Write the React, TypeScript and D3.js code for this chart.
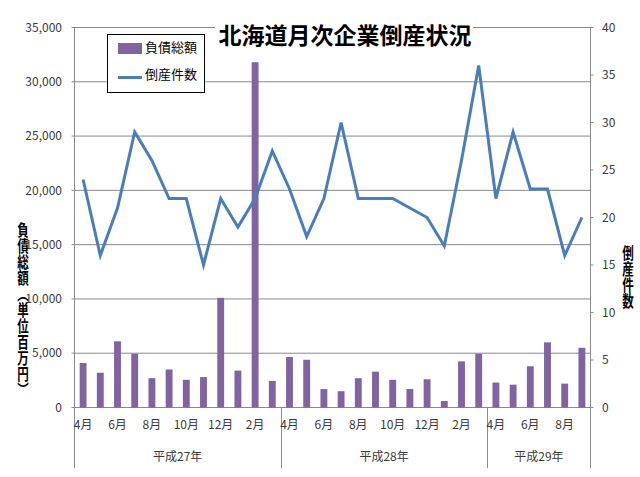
import React from "react";
import * as d3 from "d3";

const months = [
  "4月", "5月", "6月", "7月", "8月", "9月", "10月", "11月", "12月", "1月", "2月", "3月",
  "4月", "5月", "6月", "7月", "8月", "9月", "10月", "11月", "12月", "1月", "2月", "3月",
  "4月", "5月", "6月", "7月", "8月", "9月",
];
const years = [
  { name: "平成27年", count: 12 },
  { name: "平成28年", count: 12 },
  { name: "平成29年", count: 6 },
];
// 負債総額 (百万円)
const debt = [
  4100, 3200, 6100, 4950, 2700, 3500, 2550, 2800, 10100, 3400, 31800, 2450,
  4650, 4400, 1700, 1500, 2700, 3300, 2550, 1700, 2600, 600, 4250, 4950,
  2300, 2100, 3800, 6000, 2200, 5500,
];
// 倒産件数
const cases = [
  24, 16, 21, 29, 26, 22, 22, 15, 22, 19, 22, 27,
  23, 18, 22, 30, 22, 22, 22, 21, 20, 17, 26, 36,
  22, 29, 23, 23, 16, 20,
];
const leftTicks = [0, 5000, 10000, 15000, 20000, 25000, 30000, 35000];
const rightTicks = [0, 5, 10, 15, 20, 25, 30, 35, 40];

const W = 640;
const H = 477;
const m = { left: 74.5, right: 590.5, top: 27.5, bottom: 407.5 };
const catBottom = 468;
const font = "'Noto Sans CJK JP', 'Noto Sans', sans-serif";
const grid = "#8a8a8a";
const textCol = "#3a3a3a";
const barCol = "#8064a2";
const lineCol = "#4a7ebb";

export default function App() {
  const x = d3
    .scaleBand<number>()
    .domain(d3.range(months.length))
    .range([m.left, m.right])
    .paddingInner(0.6)
    .paddingOuter(0.3);
  const step = x.step();
  const cx = (i: number) => (x(i) ?? 0) + x.bandwidth() / 2;
  const yL = d3.scaleLinear().domain([0, 35000]).range([m.bottom, m.top]);
  const yR = d3.scaleLinear().domain([0, 40]).range([m.bottom, m.top]);
  const fmt = d3.format(",");

  const line = d3
    .line<number>()
    .x((_, i) => cx(i))
    .y((d) => yR(d));

  let acc = 0;
  const groups = years.map((g) => {
    const start = acc;
    acc += g.count;
    return { ...g, x0: m.left + start * step, x1: m.left + acc * step };
  });

  return (
    <svg
      width={W}
      height={H}
      style={{ position: "absolute", left: 0, top: 0, background: "#fff" }}
      fontFamily={font}
    >
      <rect width={W} height={H} fill="#fff" />

      {/* gridlines + left ticks */}
      {leftTicks.map((t) => (
        <line key={t} x1={m.left - 3} x2={m.right} y1={yL(t)} y2={yL(t)} stroke={grid} strokeWidth={1} />
      ))}
      {leftTicks.map((t) => (
        <text key={"l" + t} x={62} y={yL(t)} dy="0.35em" textAnchor="end" fontSize={12} fill={textCol}>
          {fmt(t)}
        </text>
      ))}
      {rightTicks.map((t) => (
        <line key={"rt" + t} x1={m.right} x2={m.right + 3} y1={yR(t)} y2={yR(t)} stroke={grid} />
      ))}
      {rightTicks.map((t) => (
        <text key={"r" + t} x={602} y={yR(t)} dy="0.35em" textAnchor="start" fontSize={12} fill={textCol}>
          {t}
        </text>
      ))}

      {/* axes and category separators */}
      <line x1={m.left} x2={m.left} y1={m.top} y2={catBottom} stroke={grid} />
      <line x1={m.right} x2={m.right} y1={m.top} y2={catBottom} stroke={grid} />
      {groups.slice(1).map((g) => (
        <line key={g.name} x1={Math.round(g.x0) + 0.5} x2={Math.round(g.x0) + 0.5} y1={m.bottom} y2={catBottom} stroke={grid} />
      ))}

      {/* bars */}
      {debt.map((d, i) => (
        <rect key={i} x={x(i)} y={yL(d)} width={x.bandwidth()} height={yL(0) - yL(d)} fill={barCol} />
      ))}

      {/* line */}
      <path d={line(cases) ?? ""} fill="none" stroke={lineCol} strokeWidth={3} strokeLinejoin="miter" />

      {/* month labels */}
      {months.map((mo, i) =>
        i % 2 === 0 ? (
          <text key={"m" + i} x={cx(i)} y={425} dy="0.35em" textAnchor="middle" fontSize={12} fill={textCol}>
            {mo}
          </text>
        ) : null
      )}
      {groups.map((g) => (
        <text key={"g" + g.name} x={(g.x0 + g.x1) / 2} y={457} dy="0.35em" textAnchor="middle" fontSize={12} fill={textCol}>
          {g.name}
        </text>
      ))}

      {/* title */}
      <rect x={215} y={20} width={258} height={32} fill="#fff" />
      <text x={345} y={36} dy="0.35em" textAnchor="middle" fontSize={23} fontWeight={700} fill="#000">
        北海道月次企業倒産状況
      </text>

      {/* legend */}
      <rect x={107.5} y={34.5} width={97} height={58} fill="#fff" stroke="#000" strokeWidth={1} />
      <rect x={118} y={43} width={24} height={11} fill={barCol} />
      <text x={145} y={47} dy="0.35em" fontSize={13} fill="#000">負債総額</text>
      <line x1={118} x2={142} y1={77.5} y2={77.5} stroke={lineCol} strokeWidth={3} />
      <text x={145} y={74} dy="0.35em" fontSize={13} fill="#000">倒産件数</text>

      {/* axis titles */}
      <g transform="translate(23,222) scale(0.72,1)">
        <text x={0} y={0} fontSize={16} fontWeight={700} fill="#000" style={{ writingMode: "vertical-rl" }}>
          負債総額（単位百万円）
        </text>
      </g>
      <g transform="translate(628,245) scale(0.72,1)">
        <text x={0} y={0} fontSize={16} fontWeight={700} fill="#000" style={{ writingMode: "vertical-rl" }}>
          倒産件数
        </text>
      </g>
    </svg>
  );
}
